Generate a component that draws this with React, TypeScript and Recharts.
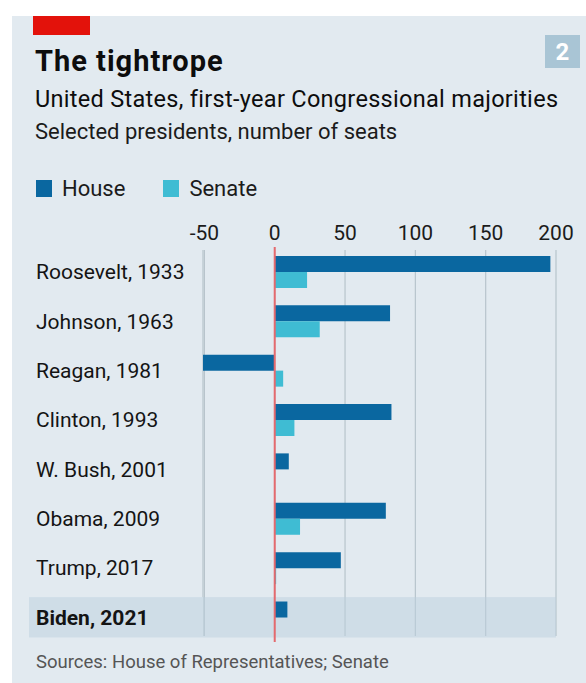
import React from 'react';
import { BarChart, Bar, XAxis, YAxis, CartesianGrid, ReferenceLine, ReferenceArea, Legend } from 'recharts';

const categories = [
  'Roosevelt, 1933',
  'Johnson, 1963',
  'Reagan, 1981',
  'Clinton, 1993',
  'W. Bush, 2001',
  'Obama, 2009',
  'Trump, 2017',
  'Biden, 2021',
];
const houseSeats = [196, 82, -51, 83, 10, 79, 47, 9];
const senateSeats = [23, 32, 6, 14, 0, 18, 1, 0];
const xTicks = [-50, 0, 50, 100, 150, 200];
const highlighted = 'Biden, 2021';
const seriesNames = ['House', 'Senate'];

const data = categories.map((name, i) => ({ name, House: houseSeats[i], Senate: senateSeats[i] }));

const FONT = 'Roboto, "Noto Sans", sans-serif';
const W = 586;
const H = 683;
const BG = '#e2eaf0';
const BAND = '#cfdde7';
const BAND_OVER = '#bcd0de';
const HOUSE = '#0a67a0';
const SENATE = '#3fbcd3';
const GRID = '#b8c4cc';
const MARGIN = { top: 217, right: 30, bottom: 41, left: 0 };
const X_AXIS_H = 30;
const Y_AXIS_W = 203;
const PLOT_TOP = MARGIN.top + X_AXIS_H;
const PLOT_H = H - PLOT_TOP - MARGIN.bottom;
const BAND_H = PLOT_H / categories.length;
const BAND_INSET = 4.5;
const GRID_TOP = 250;
const GRID_BOTTOM = 636;
const COLORS: Record<string, string> = { House: HOUSE, Senate: SENATE };

const XTick = (props: any) => {
  const { x, y, payload } = props;
  return (
    <text x={x} y={y} textAnchor="middle" fill="#1b1b1b" fontSize={21} fontFamily={FONT}>
      {payload.value}
    </text>
  );
};

const YTick = (props: any) => {
  const { y, payload } = props;
  const bold = payload.value === highlighted;
  return (
    <g>
      {bold && (
        <rect
          x={29}
          y={y - BAND_H / 2 + BAND_INSET}
          width={Y_AXIS_W - 29}
          height={BAND_H - 2 * BAND_INSET}
          fill={BAND}
        />
      )}
      <text
        x={36}
        y={y}
        dy="0.36em"
        textAnchor="start"
        fill="#141414"
        fontSize={21}
        fontWeight={bold ? 700 : 400}
        fontFamily={FONT}
      >
        {payload.value}
      </text>
    </g>
  );
};

const BandShape = (props: any) => {
  const { x, y, width, height } = props;
  return (
    <rect
      x={x}
      y={y + BAND_INSET}
      width={width}
      height={height - 2 * BAND_INSET}
      fill={BAND_OVER}
      fillOpacity={0.5}
    />
  );
};

const LegendContent = () => (
  <div style={{ display: 'flex', alignItems: 'center', fontFamily: FONT, fontSize: 22, color: '#1b1b1b' }}>
    {seriesNames.map((n, i) => (
      <div key={n} style={{ display: 'flex', alignItems: 'center', marginRight: i === 0 ? 38 : 0 }}>
        <span style={{ display: 'inline-block', width: 16, height: 17, background: COLORS[n], marginRight: 10 }} />
        <span>{n}</span>
      </div>
    ))}
  </div>
);

export default function App() {
  return (
    <div style={{ position: 'absolute', left: 0, top: 0, width: W, height: H, background: '#fff', overflow: 'hidden' }}>
      <div style={{ position: 'absolute', left: 12, top: 16, right: 0, bottom: 0, background: BG }} />
      <svg width={W} height={H} style={{ position: 'absolute', left: 0, top: 0 }}>
        <rect x={33} y={16} width={57} height={19} fill="#e3120b" />
        <rect x={545} y={35} width={35} height={33} fill="#a9c5d5" />
        <text x={562.5} y={60} textAnchor="middle" fill="#fff" fontSize={24} fontWeight={700} fontFamily={FONT}>2</text>
        <text x={35} y={71} fill="#0d0d0d" fontSize={29} fontWeight={700} letterSpacing={1} fontFamily={FONT}>The tightrope</text>
        <text x={35} y={107} fill="#0d0d0d" fontSize={23.5} letterSpacing={0.3} fontFamily={FONT}>United States, first-year Congressional majorities</text>
        <text x={35} y={139} fill="#1b1b1b" fontSize={22} fontFamily={FONT}>Selected presidents, number of seats</text>
        <text x={36} y={668} fill="#555" fontSize={18.5} fontFamily={FONT}>Sources: House of Representatives; Senate</text>
      </svg>
      <div style={{ position: 'absolute', left: 0, top: 0 }}>
        <BarChart
          width={W}
          height={H}
          data={data}
          layout="vertical"
          margin={MARGIN}
          barCategoryGap="18%"
          barGap={0}
        >
          <ReferenceArea y1={highlighted} y2={highlighted} shape={<BandShape />} ifOverflow="visible" />
          <CartesianGrid
            horizontal={false}
            vertical
            stroke={GRID}
            strokeWidth={1.2}
            y={GRID_TOP}
            height={GRID_BOTTOM - GRID_TOP}
          />
          <XAxis
            type="number"
            orientation="top"
            domain={[-50, 200]}
            ticks={xTicks}
            height={X_AXIS_H}
            axisLine={false}
            tickLine={false}
            tickSize={0}
            tickMargin={7}
            tick={<XTick />}
            interval={0}
          />
          <YAxis
            type="category"
            dataKey="name"
            width={Y_AXIS_W}
            axisLine={false}
            tickLine={false}
            tick={<YTick />}
            interval={0}
          />
          <Legend
            layout="horizontal"
            verticalAlign="middle"
            align="center"
            content={<LegendContent />}
            wrapperStyle={{ top: 176, left: 36, width: 'auto' }}
          />
          <Bar dataKey="House" fill={HOUSE} isAnimationActive={false} />
          <Bar dataKey="Senate" fill={SENATE} isAnimationActive={false} />
          <ReferenceLine x={0} stroke="#e46a6e" strokeWidth={2} />
        </BarChart>
      </div>
    </div>
  );
}
